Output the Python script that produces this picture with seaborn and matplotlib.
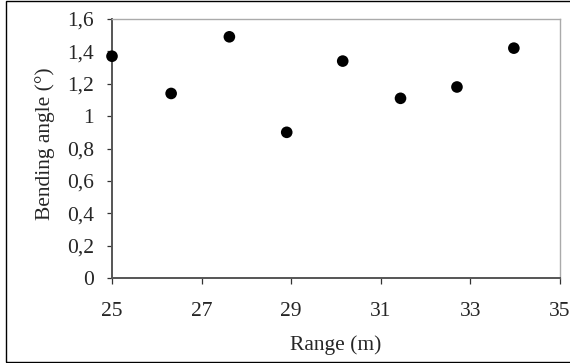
import matplotlib
matplotlib.use("Agg")
import matplotlib.pyplot as plt
import matplotlib.ticker as mticker
from matplotlib.patches import Rectangle
import seaborn as sns
import pandas as pd

range_m = [25.0, 26.32, 27.62, 28.9, 30.15, 31.44, 32.7, 33.97]
bending_angle = [1.37, 1.14, 1.49, 0.90, 1.34, 1.11, 1.18, 1.42]
x_ticks = [25, 27, 29, 31, 33, 35]
y_ticks = [0, 0.2, 0.4, 0.6, 0.8, 1.0, 1.2, 1.4, 1.6]

sns.set_style("ticks")
plt.rcParams['font.family'] = ['Liberation Serif', 'DejaVu Serif']

df = pd.DataFrame({"Range": range_m, "Angle": bending_angle})

fig = plt.figure(figsize=(5.70, 3.63), dpi=100)
ax = fig.add_axes([112/570, 85/363, (560-112)/570, (278-19)/363])

sns.scatterplot(data=df, x="Range", y="Angle", ax=ax, color="black",
                s=70, marker="o", edgecolor="none", linewidth=0, zorder=3,
                clip_on=False)

ax.set_xlim(25, 35)
ax.set_ylim(0, 1.6)
ax.set_xticks(x_ticks)
ax.set_yticks(y_ticks)
fmt = mticker.FuncFormatter(lambda v, p: ("%g" % v).replace(".", ","))
ax.xaxis.set_major_formatter(fmt)
ax.yaxis.set_major_formatter(fmt)

fs = 15.5
ax.set_xlabel("Range (m)", fontsize=fs, labelpad=10)
ax.set_ylabel("Bending angle (°)", fontsize=fs, labelpad=9)
ax.yaxis.label.set_y(0.52)
ax.tick_params(axis="both", labelsize=fs, direction="out",
               width=0.9, color="#333333")
ax.tick_params(axis="x", length=4.5, pad=13)
ax.tick_params(axis="y", length=3.8, pad=9)

for side in ["left", "bottom"]:
    ax.spines[side].set_color("#555555")
    ax.spines[side].set_linewidth(1.4)
for side in ["top", "right"]:
    ax.spines[side].set_visible(True)
    ax.spines[side].set_color("#aaaaaa")
    ax.spines[side].set_linewidth(1.0)

fig.patches.append(Rectangle((6/570, 1/363), 1.0, 361/363, transform=fig.transFigure,
                             fill=False, edgecolor="black", linewidth=1.0))

fig.savefig("out.png", dpi=100)
